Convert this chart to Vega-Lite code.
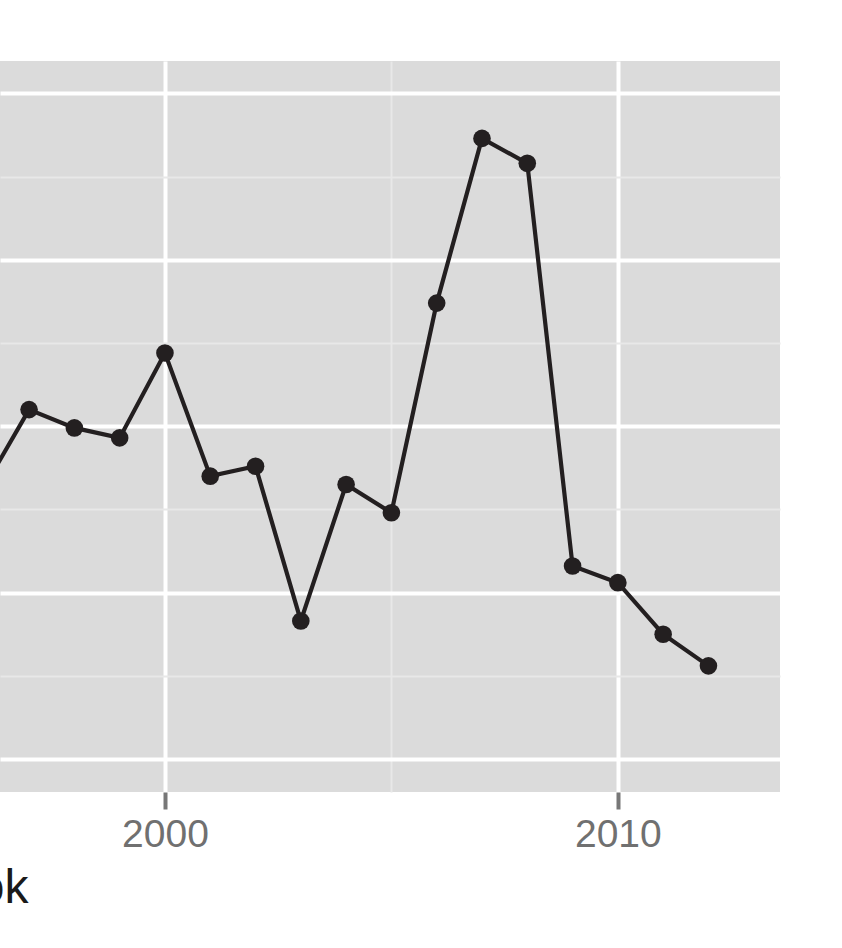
{
  "$schema": "https://vega.github.io/schema/vega-lite/v6.json",
  "autosize": {"type": "none"},
  "padding": {"left": 0, "top": 61, "right": 62, "bottom": 156},
  "width": 780,
  "height": 731,
  "background": "white",
  "config": {
    "view": {"fill": "#DBDBDB", "stroke": null},
    "font": "Liberation Sans"
  },
  "data": {
    "values": [
      {"year": 1996, "value": 16.3},
      {"year": 1997, "value": 21.0},
      {"year": 1998, "value": 19.9},
      {"year": 1999, "value": 19.3},
      {"year": 2000, "value": 24.4},
      {"year": 2001, "value": 17.0},
      {"year": 2002, "value": 17.6},
      {"year": 2003, "value": 8.3},
      {"year": 2004, "value": 16.5},
      {"year": 2005, "value": 14.8},
      {"year": 2006, "value": 27.4},
      {"year": 2007, "value": 37.3},
      {"year": 2008, "value": 35.8},
      {"year": 2009, "value": 11.6},
      {"year": 2010, "value": 10.6},
      {"year": 2011, "value": 7.5},
      {"year": 2012, "value": 5.6}
    ]
  },
  "encoding": {
    "x": {
      "field": "year",
      "type": "quantitative",
      "scale": {"domain": [1996.358, 2013.58], "nice": false, "zero": false},
      "axis": {
        "values": [2000, 2005, 2010],
        "format": "d",
        "labelExpr": "datum.value % 10 === 0 ? datum.label : ''",
        "domain": false,
        "grid": true,
        "gridColor": {"condition": {"test": "datum.value % 10 === 0", "value": "#FFFFFF"}, "value": "#E8E8E8"},
        "gridWidth": {"condition": {"test": "datum.value % 10 === 0", "value": 4}, "value": 2},
        "tickColor": {"condition": {"test": "datum.value % 10 === 0", "value": "#777777"}, "value": "transparent"},
        "tickSize": 17,
        "tickWidth": 4,
        "labelFontSize": 39,
        "labelColor": "#707070",
        "labelPadding": 6,
        "labelFont": "Liberation Sans",
        "title": "ok",
        "titleFontSize": 48,
        "titleFontWeight": "normal",
        "titleColor": "#1A1A1A",
        "titleAlign": "right",
        "titleAnchor": null,
        "titleX": 28,
        "titleY": 110,
        "titleBaseline": "alphabetic",
        "titleFont": "Liberation Sans"
      }
    },
    "y": {
      "field": "value",
      "type": "quantitative",
      "scale": {"domain": [-1.98, 41.95], "nice": false, "zero": false},
      "axis": {
        "values": [0, 5, 10, 15, 20, 25, 30, 35, 40],
        "labels": false,
        "ticks": false,
        "domain": false,
        "title": null,
        "grid": true,
        "gridColor": {"condition": {"test": "datum.value % 10 === 0", "value": "#FFFFFF"}, "value": "#E8E8E8"},
        "gridWidth": {"condition": {"test": "datum.value % 10 === 0", "value": 4}, "value": 2}
      }
    }
  },
  "layer": [
    {"mark": {"type": "line", "color": "#231F20", "strokeWidth": 4.2, "clip": true}},
    {"mark": {"type": "point", "filled": true, "color": "#231F20", "opacity": 1, "size": 310, "clip": true}}
  ]
}
